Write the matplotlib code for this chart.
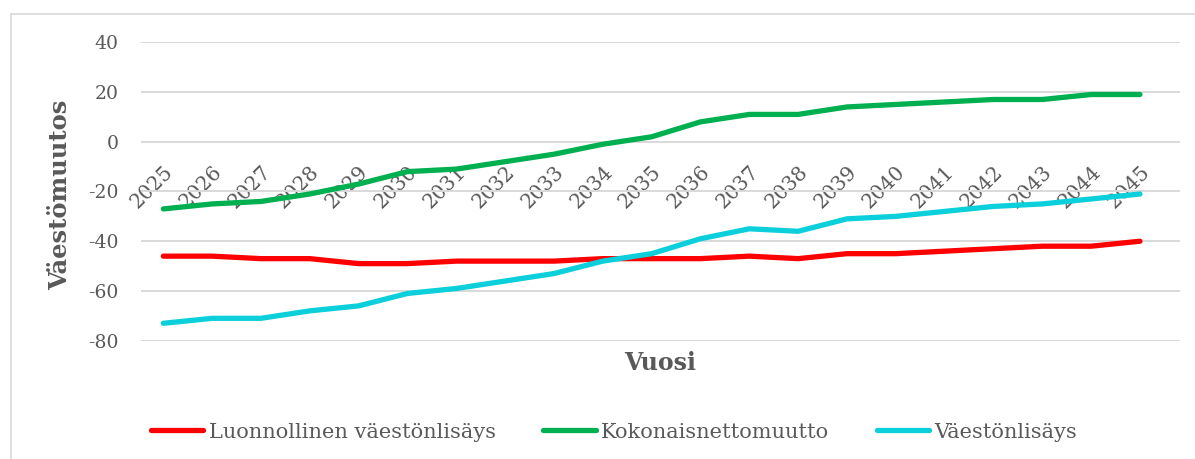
import matplotlib
matplotlib.use("Agg")
import matplotlib.pyplot as plt
from matplotlib.lines import Line2D

# data
years = list(range(2025, 2046))
luonnollinen = [-46, -46, -47, -47, -49, -49, -48, -48, -48, -47, -47,
                -47, -46, -47, -45, -45, -44, -43, -42, -42, -40]
nettomuutto = [-27, -25, -24, -21, -17, -12, -11, -8, -5, -1, 2,
               8, 11, 11, 14, 15, 16, 17, 17, 19, 19]
vaestonlisays = [-73, -71, -71, -68, -66, -61, -59, -56, -53, -48, -45,
                 -39, -35, -36, -31, -30, -28, -26, -25, -23, -21]
labels = ["Luonnollinen väestönlisäys", "Kokonaisnettomuutto", "Väestönlisäys"]
colors = ["#FF0000", "#00B050", "#0BCFDA"]
yticks = [-80, -60, -40, -20, 0, 20, 40]

plt.rcParams['font.family'] = ['DejaVu Serif']
plt.rcParams['axes.unicode_minus'] = False
txt = '#595959'

W, H = 1195, 459
fig = plt.figure(figsize=(W / 100, H / 100), dpi=100)
ax = fig.add_axes([141 / W, 1 - 340.7 / H, 1039 / W, 298.4 / H])

for vals, lab, c in zip([luonnollinen, nettomuutto, vaestonlisays], labels, colors):
    ax.plot(years, vals, color=c, lw=3.8, label=lab, solid_capstyle='round')

ax.set_ylim(-80, 40)
ax.set_xlim(2025 - 0.457, 2045 + 0.82)
ax.set_yticks(yticks)
ax.set_xticks(years)
ax.set_xticklabels([str(y) for y in years])
ax.grid(axis='y', color='#D9D9D9', lw=1.4)
ax.set_axisbelow(True)
for s in ax.spines.values():
    s.set_visible(False)
ax.spines['bottom'].set_position(('data', 0))
ax.tick_params(axis='y', length=0, pad=16, labelsize=13.5, labelcolor=txt)
ax.tick_params(axis='x', length=0, pad=15, labelsize=14.5, labelcolor=txt,
               labelrotation=45)
plt.setp(ax.get_xticklabels(), ha='right', va='top', rotation_mode='anchor')

ax.set_ylabel('Väestömuutos', fontsize=17.5, fontweight='bold', color=txt)
ax.yaxis.set_label_coords(-0.066, 0.49)
ax.set_xlabel('Vuosi', fontsize=17, fontweight='bold', color=txt)
ax.xaxis.set_label_coords(0.5, -0.035)

fig.legend(loc='center', bbox_to_anchor=(614 / W, 1 - 432 / H), ncol=3,
           frameon=False, fontsize=15, handlelength=2.5, handletextpad=0.25,
           columnspacing=2.3, labelcolor=txt)

# outer chart border (light gray)
fig.add_artist(Line2D([10.5 / W, 10.5 / W], [0, 1 - 14 / H], color='#D9D9D9', lw=1.2,
                      transform=fig.transFigure))
fig.add_artist(Line2D([10.5 / W, 1], [1 - 14 / H, 1 - 14 / H], color='#D9D9D9', lw=1.2,
                      transform=fig.transFigure))

fig.savefig('out.png', dpi=100)
